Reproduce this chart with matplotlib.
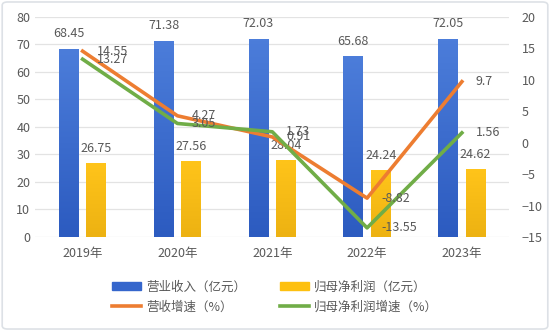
import matplotlib
matplotlib.use("Agg")
import matplotlib.pyplot as plt
import numpy as np
from matplotlib.patches import Patch, FancyBboxPatch
from matplotlib.lines import Line2D
from matplotlib.colors import LinearSegmentedColormap

plt.rcParams['font.family'] = ['Noto Sans CJK SC', 'DejaVu Sans']

years = ["2019年", "2020年", "2021年", "2022年", "2023年"]
revenue = [68.45, 71.38, 72.03, 65.68, 72.05]        # 营业收入（亿元）
net_profit = [26.75, 27.56, 28.04, 24.24, 24.62]     # 归母净利润（亿元）
revenue_growth = [14.55, 4.27, 0.91, -8.82, 9.7]     # 营收增速（%）
profit_growth = [13.27, 3.05, 1.73, -13.55, 1.56]    # 归母净利润增速（%）

blue = "#3B6CD1"
yellow = "#FDC010"
orange = "#ED7D31"
green = "#70AD47"
txt = "#595959"

blue_cm = LinearSegmentedColormap.from_list("b", ["#2C5BC0", "#4C7DDA"])
yellow_cm = LinearSegmentedColormap.from_list("y", ["#EDB212", "#FFC41A"])


def gradient_bars(ax, bars, cmap):
    # paint each bar with a vertical gradient, clipped to the bar
    grad = np.linspace(0, 1, 64).reshape(-1, 1)
    for b in bars:
        x0, y0 = b.get_x(), b.get_y()
        im = ax.imshow(grad, cmap=cmap, aspect="auto", origin="lower",
                       extent=(x0, x0 + b.get_width(), y0, y0 + b.get_height()), zorder=2)
        im.set_clip_path(b)
        b.set_alpha(0)


fig = plt.figure(figsize=(5.5, 3.31), dpi=100)
fig.patches.append(FancyBboxPatch((0.004, 0.006), 0.992, 0.988, boxstyle="round,pad=0,rounding_size=0.01",
                                  transform=fig.transFigure, fc="white", ec="#DDE1E6", lw=1.2, zorder=-10))

ax = fig.add_axes([0.064, 0.284, 0.862, 0.665])
x = np.arange(len(years))
w = 0.21

b1 = ax.bar(x - 0.145, revenue, w, color=blue, zorder=2)
b2 = ax.bar(x + 0.145, net_profit, w, color=yellow, zorder=2)
gradient_bars(ax, b1, blue_cm)
gradient_bars(ax, b2, yellow_cm)
for xi, v in zip(x - 0.145, revenue):
    ax.annotate(f"{v:.2f}", (xi, v), xytext=(0, 6), textcoords="offset points",
                ha="center", va="bottom", fontsize=9, color=txt)
for xi, v in zip(x + 0.145, net_profit):
    ax.annotate(f"{v:.2f}", (xi, v), xytext=(0, 6), textcoords="offset points",
                ha="center", va="bottom", fontsize=9, color=txt)

ax.set_xlim(-0.5, 4.5)
ax.set_ylim(0, 80)
ax.set_yticks(range(0, 81, 10))
ax.set_xticks(x)
ax.set_xticklabels(years)
ax.grid(axis="y", color="#E3E3E3", lw=0.9, zorder=0)
for s in ax.spines.values():
    s.set_visible(False)
ax.tick_params(length=0, colors=txt, labelsize=9)
ax.tick_params(axis="x", pad=7)

ax2 = ax.twinx()
ax2.plot(x, revenue_growth, color=orange, lw=2.6, zorder=3)
ax2.plot(x, profit_growth, color=green, lw=2.6, zorder=3)
for xi, v in zip(x, revenue_growth):
    ax2.annotate(f"{v:g}", (xi, v), xytext=(10, 0), textcoords="offset points",
                 ha="left", va="center", fontsize=9, color=txt)
for xi, v in zip(x, profit_growth):
    ax2.annotate(f"{v:g}", (xi, v), xytext=(10, 0), textcoords="offset points",
                 ha="left", va="center", fontsize=9, color=txt)
ax2.set_ylim(-15, 20)
ax2.set_yticks(range(-15, 21, 5))
for s in ax2.spines.values():
    s.set_visible(False)
ax2.tick_params(length=0, colors=txt, labelsize=9, pad=9)

handles = [Patch(color="#3566CC"), Line2D([], [], color=orange, lw=2.6),
           Patch(color=yellow), Line2D([], [], color=green, lw=2.6)]
labels = ["营业收入（亿元）", "营收增速（%）", "归母净利润（亿元）", "归母净利润增速（%）"]
leg = fig.legend(handles, labels, ncol=2, loc="center", bbox_to_anchor=(0.5, 0.103),
                 frameon=False, fontsize=9, handlelength=2.3, handleheight=0.7,
                 columnspacing=2.7, labelspacing=0.55, handletextpad=0.4)
for t in leg.get_texts():
    t.set_color(txt)

fig.savefig("out.png", dpi=100)
